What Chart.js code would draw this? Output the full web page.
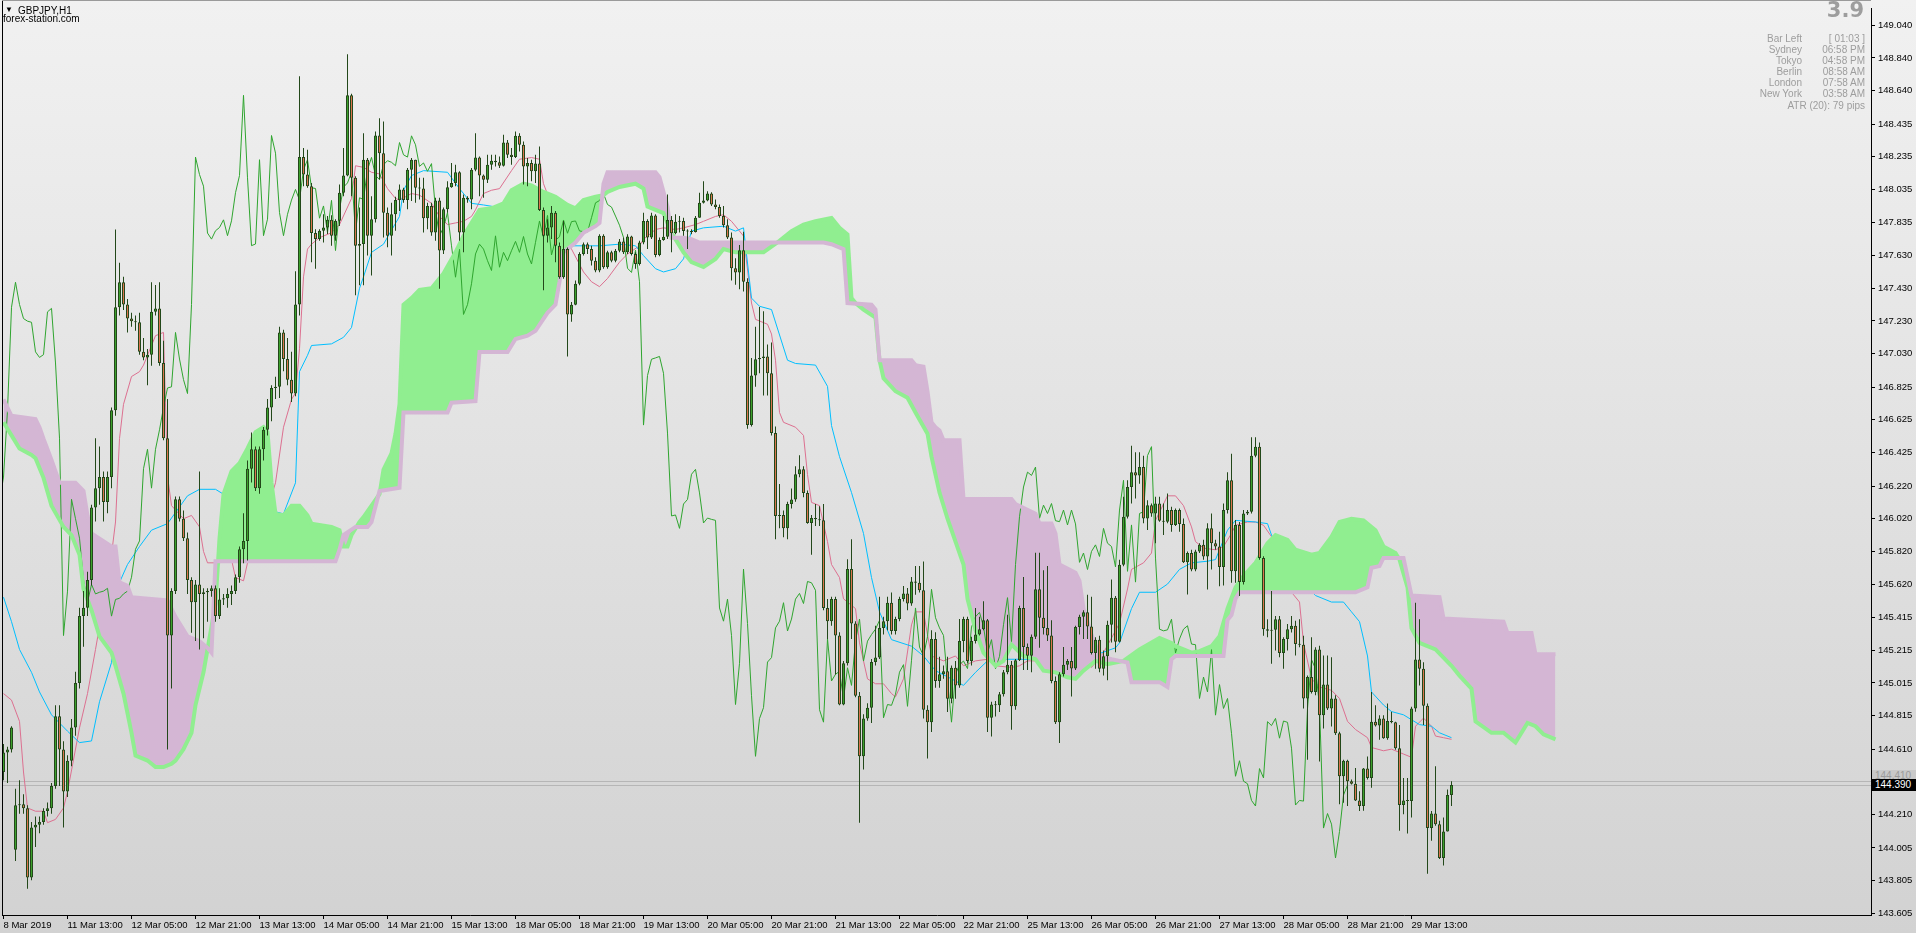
<!DOCTYPE html>
<html>
<head>
<meta charset="utf-8">
<title>GBPJPY,H1</title>
<script src="https://cdn.jsdelivr.net/npm/chart.js@4.4.1/dist/chart.umd.min.js"></script>
<style>
  html, body { margin: 0; padding: 0; }
  body {
    width: 1916px; height: 933px; overflow: hidden; position: relative;
    background: linear-gradient(to bottom, #f1f1f1 0%, #d2d2d2 100%);
    font-family: "Liberation Sans", Arial, sans-serif;
  }
  canvas { position: absolute; left: 0; top: 0; }
  .t { position: absolute; white-space: nowrap; font-size: 10px; line-height: 11px; }
  .info { color: #9d9d9d; text-align: right; }
  #big { position: absolute; right: 52px; top: -1px; font: bold 21px/22px "DejaVu Sans", Verdana, sans-serif; color: #9d9d9d; }
  .tag { position: absolute; left: 1872px; width: 44px; height: 12px; font: 10px/12px "Liberation Sans", Arial, sans-serif; padding-left: 3px; box-sizing: border-box; }
</style>
</head>
<body>
<canvas id="chart" width="1916" height="933"></canvas>

<div class="t" style="left:5px; top:4px; font-size:8px;">&#9660;</div>
<div class="t" style="left:18px; top:5px; color:#000;">GBPJPY,H1</div>
<div class="t" style="left:3px; top:13px; color:#000;">forex-station.com</div>

<div id="big">3.9</div>
<div class="t info" style="right:114px; top:33px;">Bar Left<br>Sydney<br>Tokyo<br>Berlin<br>London<br>New York</div>
<div class="t info" style="right:51px; top:33px;">[ 01:03 ]<br>06:58 PM<br>04:58 PM<br>08:58 AM<br>07:58 AM<br>03:58 AM</div>
<div class="t info" style="right:51px; top:100px;">ATR (20): 79 pips</div>

<div class="tag" id="askTag" style="background:#c9c9c9; color:#9a9a9a;">144.410</div>
<div class="tag" id="bidTag" style="background:#000; color:#fff;">144.390</div>

<script>
// GBPJPY H1, 8 Mar 2019 21:00 .. 29 Mar 2019
const tickBars = [0, 16, 32, 48, 64, 80, 96, 112, 128, 144, 160, 176, 192, 208, 224, 240, 256, 272, 288, 304, 320, 336, 352];
const tickLabels = ['8 Mar 2019', '11 Mar 13:00', '12 Mar 05:00', '12 Mar 21:00', '13 Mar 13:00', '14 Mar 05:00',
  '14 Mar 21:00', '15 Mar 13:00', '18 Mar 05:00', '18 Mar 21:00', '19 Mar 13:00', '20 Mar 05:00', '20 Mar 21:00',
  '21 Mar 13:00', '22 Mar 05:00', '22 Mar 21:00', '25 Mar 13:00', '26 Mar 05:00', '26 Mar 21:00', '27 Mar 13:00',
  '28 Mar 05:00', '28 Mar 21:00', '29 Mar 13:00'];
const priceTicks = [149.040, 148.840, 148.640, 148.435, 148.235, 148.035, 147.835, 147.630, 147.430, 147.230,
  147.030, 146.825, 146.625, 146.425, 146.220, 146.020, 145.820, 145.620, 145.415, 145.215, 145.015, 144.815,
  144.610, 144.210, 144.005, 143.805, 143.605];

const bidPrice = 144.390;
const askPrice = 144.415;

const opens = [
  144.470,144.590,144.607,143.994,144.266,144.273,144.249,143.824,144.130,144.147,
  144.164,144.232,144.249,144.385,144.811,144.607,144.351,144.539,144.743,145.015,
  145.424,145.475,145.645,146.088,146.207,146.275,146.122,146.275,146.684,147.314,
  147.467,147.331,147.245,147.229,147.222,147.041,147.007,147.024,147.286,147.307,
  146.973,146.513,145.305,145.577,146.139,146.020,145.901,145.645,145.509,145.618,
  145.560,145.570,145.577,145.594,145.424,145.526,145.533,145.560,145.577,145.662,
  145.833,145.884,146.326,146.445,146.207,146.445,146.564,146.701,146.820,146.827,
  147.160,146.997,146.871,146.786,147.331,148.233,148.126,148.055,147.768,147.731,
  147.782,147.802,147.849,147.752,147.843,148.015,148.120,148.611,148.106,147.691,
  147.701,148.217,147.752,147.853,148.365,148.257,147.893,147.752,147.883,147.970,
  148.035,147.970,148.156,148.217,148.045,148.041,147.859,147.934,147.772,147.968,
  147.661,147.913,148.049,148.075,148.140,147.772,147.984,147.974,148.156,148.231,
  148.120,148.095,148.186,148.211,148.201,148.180,148.322,148.247,148.233,148.363,
  148.308,148.176,148.197,148.146,148.193,147.909,147.752,147.802,147.893,147.690,
  147.498,147.670,147.270,147.330,147.458,147.640,147.700,147.670,147.599,147.539,
  147.751,147.559,147.650,147.599,147.660,147.717,147.650,147.747,147.640,147.579,
  147.711,147.842,147.741,147.876,147.634,147.725,147.745,147.848,147.767,147.838,
  147.842,147.781,147.777,147.775,147.862,147.953,147.967,148.010,147.943,147.927,
  147.872,147.816,147.741,147.553,147.527,147.663,147.470,146.593,146.896,146.996,
  147.004,147.013,146.910,146.544,146.037,146.043,145.961,146.110,146.138,146.292,
  146.322,146.178,145.994,146.024,146.016,146.010,145.474,145.393,145.528,145.306,
  144.883,145.135,145.712,145.379,144.937,144.566,144.797,144.864,145.143,145.170,
  145.352,145.393,145.506,145.333,145.406,145.528,145.563,145.501,145.636,145.628,
  145.582,144.851,144.775,145.284,145.027,145.068,145.086,144.918,145.108,145.000,
  145.271,145.406,145.149,145.271,145.311,145.344,145.398,144.802,144.883,144.878,
  144.946,145.081,145.127,144.872,145.154,145.474,145.235,145.181,145.298,145.588,
  145.414,145.352,145.306,145.027,144.775,145.068,145.127,145.149,145.103,145.357,
  145.420,145.447,145.360,145.198,145.280,145.102,145.178,145.371,145.537,145.267,
  145.739,146.032,146.214,146.305,146.285,146.336,146.022,146.103,146.052,146.113,
  146.008,146.002,146.073,145.982,146.073,145.988,145.753,145.810,145.709,145.820,
  145.860,145.789,145.961,145.870,145.850,145.725,146.073,146.255,145.698,145.982,
  145.632,146.052,146.063,146.406,146.461,145.779,145.344,145.334,145.340,145.405,
  145.199,145.284,145.344,145.365,145.253,145.249,144.920,145.051,144.960,145.219,
  144.818,145.005,144.859,144.920,144.707,144.444,144.539,144.414,144.398,144.296,
  144.262,144.491,144.434,144.778,144.754,144.798,144.677,144.782,144.774,144.616,
  144.268,144.296,144.292,144.859,145.158,145.102,144.875,144.127,144.216,144.151,
  143.944,144.106,144.329];

const highs = [
  144.641,144.624,144.750,144.368,144.419,144.334,144.266,144.164,144.198,144.198,
  144.249,144.283,144.402,144.879,144.879,144.658,144.573,144.794,145.083,145.475,
  145.577,145.696,146.105,146.513,146.462,146.309,146.309,146.701,147.790,147.586,
  147.501,147.365,147.280,147.263,147.280,147.126,147.058,147.467,147.450,147.467,
  147.109,146.752,145.594,146.156,146.156,146.071,145.935,145.662,145.645,146.309,
  145.594,145.594,145.611,145.611,145.594,145.560,145.594,145.611,145.679,145.850,
  146.054,146.377,146.547,146.462,146.462,146.582,146.752,146.837,146.888,147.194,
  147.177,147.126,147.041,147.535,148.727,148.288,148.278,148.075,147.792,147.792,
  147.883,147.873,147.877,147.853,148.065,148.288,148.863,148.621,148.116,147.924,
  148.379,148.227,147.994,148.389,148.470,148.450,147.924,147.954,147.990,148.065,
  148.045,148.166,148.227,148.217,148.106,148.106,147.954,147.954,147.984,147.984,
  147.924,148.085,148.197,148.186,148.146,148.004,147.994,148.166,148.379,148.237,
  148.126,148.247,148.247,148.247,148.237,148.369,148.338,148.288,148.389,148.379,
  148.328,148.227,148.217,148.247,148.298,147.924,147.853,147.933,147.903,147.711,
  147.842,147.680,147.346,147.478,147.650,147.711,147.711,147.690,147.620,147.761,
  147.761,147.660,147.660,147.670,147.731,147.741,147.761,147.751,147.650,147.721,
  147.893,147.852,147.893,147.883,147.741,147.872,148.004,147.872,147.883,147.872,
  147.862,147.791,147.791,147.872,148.014,148.085,148.024,148.018,147.974,147.943,
  147.933,147.852,147.771,147.614,147.695,147.776,147.492,147.004,147.194,147.316,
  147.289,147.086,147.099,146.585,146.232,146.070,146.124,146.205,146.341,146.408,
  146.341,146.192,146.043,146.110,146.097,146.110,145.528,145.542,145.542,145.325,
  145.149,145.772,145.894,145.393,144.959,144.824,144.891,145.162,145.365,145.542,
  145.420,145.542,145.569,145.420,145.542,145.609,145.596,145.663,145.731,145.731,
  145.758,144.878,145.338,145.325,145.176,145.122,145.176,145.122,145.149,145.406,
  145.420,145.420,145.298,145.474,145.420,145.515,145.406,144.900,144.905,144.959,
  145.095,145.433,145.149,145.162,145.487,145.663,145.257,145.311,145.812,145.812,
  145.704,145.731,145.398,145.054,145.081,145.235,145.162,145.235,145.365,145.433,
  145.460,145.555,145.542,145.294,145.304,145.213,145.395,145.648,145.547,145.769,
  146.154,146.255,146.467,146.427,146.427,146.406,146.133,146.113,146.154,146.154,
  146.113,146.174,146.093,146.083,146.083,146.022,145.820,145.830,145.830,145.870,
  145.891,145.992,146.052,145.891,145.941,146.113,146.305,146.417,146.012,146.000,
  146.073,146.073,146.518,146.518,146.487,145.790,145.405,145.577,145.425,145.425,
  145.294,145.375,145.425,145.395,145.405,145.304,145.061,145.294,145.233,145.243,
  145.183,145.183,145.172,144.940,144.717,144.545,144.545,144.424,144.495,144.353,
  144.495,144.565,144.960,144.879,144.818,144.818,144.889,144.839,144.778,144.758,
  144.434,144.434,144.869,145.506,145.405,145.142,144.889,144.232,144.505,144.171,
  144.191,144.363,144.414];

const lows = [
  144.419,144.402,144.590,143.926,144.215,144.215,143.755,143.807,144.011,144.096,
  144.147,144.198,144.215,144.368,144.385,144.130,144.317,144.505,144.692,144.981,
  145.236,145.424,145.611,146.003,146.105,146.003,146.054,146.207,146.650,147.263,
  147.297,147.160,147.194,147.171,147.024,146.990,146.837,146.956,147.263,146.956,
  146.500,144.607,144.981,145.560,146.003,145.884,145.560,145.322,145.271,145.220,
  145.288,145.390,145.543,145.390,145.407,145.492,145.475,145.492,145.560,145.628,
  145.747,145.764,146.241,146.190,146.173,146.377,146.530,146.616,146.752,146.759,
  146.922,146.837,146.735,146.769,147.263,148.055,148.045,147.590,147.549,147.721,
  147.711,147.762,147.691,147.721,147.812,147.994,148.116,147.994,147.387,147.448,
  147.448,147.630,147.509,147.833,148.096,147.741,147.681,147.630,147.782,147.903,
  147.954,147.913,147.964,147.954,147.974,147.772,147.792,147.752,147.721,147.428,
  147.640,147.893,148.045,148.055,147.721,147.650,147.954,147.913,148.146,147.994,
  147.984,148.075,148.156,148.176,148.166,148.176,148.227,148.186,148.227,148.267,
  148.065,148.055,148.085,148.075,147.903,147.418,147.711,147.731,147.589,147.488,
  147.488,147.013,147.225,147.326,147.448,147.630,147.640,147.569,147.529,147.529,
  147.549,147.549,147.589,147.589,147.650,147.640,147.640,147.630,147.549,147.569,
  147.700,147.670,147.731,147.620,147.626,147.721,147.731,147.650,147.761,147.771,
  147.751,147.670,147.761,147.771,147.862,147.949,147.963,147.933,147.913,147.862,
  147.802,147.731,147.478,147.451,147.424,147.411,146.571,146.585,146.828,146.910,
  146.774,146.774,146.530,145.894,145.961,145.907,145.894,146.083,146.124,146.273,
  146.151,145.989,145.799,145.975,145.975,145.460,145.284,145.365,145.067,144.878,
  144.878,145.122,145.284,144.927,144.160,144.485,144.783,144.770,145.122,145.162,
  145.311,145.338,145.311,145.311,145.393,145.514,145.460,145.487,145.555,145.569,
  144.797,144.553,144.715,144.986,144.986,145.040,144.837,144.891,144.918,144.986,
  145.203,145.135,145.122,145.257,145.306,145.338,144.715,144.688,144.810,144.837,
  144.932,145.068,144.729,144.851,145.149,145.095,145.095,145.081,145.284,145.230,
  145.311,145.271,145.013,144.764,144.648,145.054,145.095,144.932,145.095,145.311,
  145.284,145.284,145.189,145.102,145.081,145.061,145.031,145.263,145.203,145.263,
  145.729,146.022,146.113,146.143,146.234,145.992,145.951,146.032,145.870,146.002,
  145.921,145.992,145.941,145.976,145.941,145.749,145.557,145.698,145.698,145.810,
  145.769,145.587,145.709,145.830,145.607,145.611,146.052,145.628,145.628,145.547,
  145.617,146.042,146.052,146.396,145.769,145.304,145.294,145.132,145.213,145.172,
  145.102,145.213,145.324,145.183,145.233,144.859,144.545,144.950,144.940,144.535,
  144.737,144.849,144.748,144.697,144.272,144.282,144.262,144.393,144.292,144.232,
  144.233,144.424,144.373,144.748,144.667,144.673,144.667,144.768,144.606,144.110,
  144.212,144.094,144.191,144.839,145.000,144.758,143.847,144.050,144.141,143.938,
  143.898,144.106,144.262];

const closes = [
  144.590,144.607,144.743,144.266,144.273,144.249,143.824,144.130,144.147,144.164,
  144.232,144.249,144.385,144.811,144.607,144.351,144.539,144.743,145.015,145.424,
  145.475,145.645,146.088,146.207,146.275,146.122,146.275,146.684,147.314,147.467,
  147.331,147.245,147.229,147.222,147.041,147.007,147.024,147.286,147.307,146.973,
  146.513,145.305,145.577,146.139,146.020,145.901,145.645,145.509,145.618,145.560,
  145.570,145.577,145.594,145.424,145.526,145.533,145.560,145.577,145.662,145.833,
  145.884,146.326,146.445,146.207,146.445,146.564,146.701,146.820,146.827,147.160,
  146.997,146.871,146.786,147.331,148.233,148.126,148.055,147.768,147.731,147.782,
  147.802,147.849,147.752,147.843,148.015,148.120,148.611,148.106,147.691,147.701,
  148.217,147.752,147.853,148.365,148.257,147.893,147.752,147.883,147.970,148.035,
  147.970,148.156,148.217,148.045,148.041,147.859,147.934,147.772,147.968,147.661,
  147.913,148.049,148.075,148.140,147.772,147.984,147.974,148.156,148.231,148.120,
  148.095,148.186,148.211,148.201,148.180,148.322,148.247,148.233,148.363,148.308,
  148.176,148.197,148.146,148.193,147.909,147.752,147.802,147.893,147.690,147.498,
  147.670,147.270,147.330,147.458,147.640,147.700,147.670,147.599,147.539,147.751,
  147.559,147.650,147.599,147.660,147.717,147.650,147.747,147.640,147.579,147.711,
  147.842,147.741,147.876,147.634,147.725,147.745,147.848,147.767,147.838,147.842,
  147.781,147.777,147.775,147.862,147.953,147.967,148.010,147.943,147.927,147.872,
  147.816,147.741,147.553,147.527,147.663,147.470,146.593,146.896,146.996,147.004,
  147.013,146.910,146.544,146.037,146.043,145.961,146.110,146.138,146.292,146.322,
  146.178,145.994,146.024,146.016,146.010,145.474,145.393,145.528,145.306,144.883,
  145.135,145.712,145.379,144.937,144.566,144.797,144.864,145.143,145.170,145.352,
  145.393,145.506,145.333,145.406,145.528,145.563,145.501,145.636,145.628,145.582,
  144.851,144.775,145.284,145.027,145.068,145.086,144.918,145.108,145.000,145.271,
  145.406,145.149,145.271,145.311,145.344,145.398,144.802,144.883,144.878,144.946,
  145.081,145.127,144.872,145.154,145.474,145.235,145.181,145.298,145.588,145.414,
  145.352,145.306,145.027,144.775,145.068,145.127,145.149,145.103,145.357,145.420,
  145.447,145.360,145.198,145.280,145.102,145.178,145.371,145.537,145.267,145.739,
  146.032,146.214,146.305,146.285,146.336,146.022,146.103,146.052,146.113,146.008,
  146.002,146.073,145.982,146.073,145.988,145.753,145.810,145.709,145.820,145.860,
  145.789,145.961,145.870,145.850,145.725,146.073,146.255,145.698,145.982,145.632,
  146.052,146.063,146.406,146.461,145.779,145.344,145.334,145.340,145.405,145.199,
  145.284,145.344,145.365,145.253,145.249,144.920,145.051,144.960,145.219,144.818,
  145.005,144.859,144.920,144.707,144.444,144.539,144.414,144.398,144.296,144.262,
  144.491,144.434,144.778,144.754,144.798,144.677,144.782,144.774,144.616,144.268,
  144.296,144.292,144.859,145.158,145.102,144.875,144.127,144.216,144.151,143.944,
  144.106,144.329,144.390];

// Ichimoku lines: [bar, price]
const tenkan = [[0,144.95],[2,144.91],[4,144.78],[5,144.47],[6,144.25],[8,144.23],[10,144.23],[11,144.16],[13,144.18],
  [15,144.25],[16,144.35],[19,144.74],[21,144.95],[23,145.22],[24,145.36],[26,145.56],[27,145.80],[28,146.00],[29,146.51],
  [30,146.72],[32,146.89],[34,146.92],[35,146.96],[37,147.08],[38,147.14],[40,147.16],[41,146.28],[42,146.10],[45,146.02],
  [47,146.04],[49,145.97],[50,145.82],[51,145.75],[54,145.75],[57,145.77],[58,145.66],[60,145.64],[61,145.75],[63,146.00],
  [65,146.00],[68,146.24],[70,146.58],[72,146.75],[73,146.79],[74,147.06],[75,147.50],[76,147.67],[77,147.70],[79,147.74],
  [82,147.77],[84,147.82],[87,147.98],[88,148.18],[90,148.17],[92,148.14],[94,148.13],[96,148.04],[98,147.98],[99,147.97],
  [102,148.01],[104,148.00],[107,147.95],[109,147.87],[111,147.82],[113,147.83],[115,147.84],[117,147.87],[118,147.91],
  [120,148.01],[122,148.03],[124,148.04],[127,148.15],[129,148.22],[132,148.23],[134,148.22],[135,148.07],[140,147.75],
  [142,147.67],[145,147.53],[147,147.47],[149,147.44],[151,147.49],[154,147.59],[156,147.64],[159,147.69],[160,147.73],
  [163,147.79],[165,147.80],[168,147.79],[170,147.80],[173,147.82],[175,147.84],[178,147.87],[180,147.88],[182,147.84],
  [185,147.75],[187,147.34],[188,147.24],[191,147.21],[192,147.15],[193,146.99],[194,146.67],[195,146.61],[198,146.58],
  [200,146.53],[201,146.29],[202,146.12],[204,146.10],[206,145.88],[207,145.74],[209,145.66],[210,145.53],[213,145.47],
  [214,145.26],[216,145.04],[218,145.01],[220,145.01],[222,144.95],[223,144.93],[225,145.04],[227,145.37],[228,145.45],
  [230,145.45],[231,145.31],[232,145.18],[235,145.15],[238,145.18],[240,145.12],[243,145.15],[246,145.16],[248,145.12],
  [252,145.11],[254,145.12],[256,145.15],[271,145.15],[272,145.11],[275,145.20],[279,145.38],[281,145.59],[282,145.71],
  [285,145.75],[287,145.81],[288,146.01],[290,146.11],[291,146.16],[293,146.16],[295,146.10],[297,145.97],[298,145.88],
  [300,145.84],[303,145.83],[305,145.85],[307,145.93],[308,145.98],[311,146.00],[313,146.00],[315,145.98],[317,145.91],
  [319,145.72],[322,145.57],[324,145.51],[325,145.26],[327,145.04],[329,144.99],[332,144.97],[334,144.92],[336,144.78],
  [338,144.73],[341,144.68],[342,144.62],[345,144.60],[347,144.61],[350,144.58],[352,144.56],[353,144.75],[355,144.80],
  [357,144.75],[358,144.69],[360,144.68],[362,144.67]];

const kijun = [[0,145.54],[2,145.39],[4,145.22],[7,145.08],[9,144.96],[12,144.82],[16,144.72],[19,144.65],[22,144.66],
  [24,144.90],[27,145.14],[29,145.63],[31,145.74],[34,145.85],[37,145.95],[41,145.99],[46,146.16],[49,146.20],[53,146.20],
  [55,146.17],[62,146.10],[70,146.05],[73,146.24],[74,146.92],[76,147.02],[77,147.08],[82,147.09],[85,147.13],[87,147.19],
  [89,147.43],[90,147.50],[92,147.65],[95,147.70],[99,147.87],[100,148.03],[102,148.12],[105,148.15],[111,148.14],
  [114,148.04],[117,147.95],[120,147.94],[125,147.92],[134,147.92],[140,147.69],[149,147.69],[154,147.70],[158,147.69],
  [160,147.63],[163,147.55],[165,147.53],[168,147.55],[170,147.61],[172,147.78],[175,147.80],[180,147.81],[183,147.78],
  [185,147.80],[187,147.37],[189,147.32],[192,147.30],[196,146.99],[198,146.97],[203,146.96],[206,146.83],[207,146.59],
  [209,146.40],[212,146.18],[215,145.93],[217,145.66],[219,145.45],[222,145.28],[227,145.24],[230,145.18],[233,145.09],
  [237,145.04],[240,145.00],[243,145.08],[246,145.15],[248,145.16],[270,145.16],[278,145.23],[279,145.26],[282,145.47],
  [284,145.57],[288,145.57],[291,145.62],[294,145.71],[297,145.75],[301,145.76],[303,145.77],[306,145.95],[308,146.01],
  [313,146.00],[316,145.99],[317,145.92],[322,145.70],[328,145.55],[332,145.51],[335,145.51],[337,145.45],[339,145.39],
  [341,145.18],[342,144.96],[345,144.88],[347,144.84],[350,144.82],[352,144.79],[354,144.76],[357,144.75],[359,144.71],
  [362,144.68]];

const senkouA = [[0,146.61],[2,146.53],[4,146.45],[7,146.41],[8,146.39],[10,146.27],[12,146.10],[15,145.97],[17,145.92],
  [19,145.80],[20,145.59],[22,145.46],[24,145.30],[27,145.20],[28,145.12],[30,144.95],[32,144.71],[33,144.57],[36,144.54],
  [38,144.50],[40,144.50],[42,144.52],[43,144.54],[45,144.61],[47,144.71],[48,144.88],[50,145.08],[51,145.22],[52,145.36],
  [53,145.50],[54,145.90],[55,146.17],[57,146.31],[59,146.36],[61,146.45],[63,146.55],[65,146.58],[66,146.55],[67,146.24],
  [68,146.05],[70,146.04],[72,146.10],[74,146.10],[76,146.04],[77,145.99],[82,145.97],[84,145.95],[85,145.85],[86,145.85],
  [87,145.92],[89,146.00],[90,146.03],[94,146.17],[95,146.32],[97,146.42],[98,146.54],[99,146.72],[100,147.33],[102,147.37],
  [104,147.42],[107,147.43],[110,147.52],[113,147.65],[115,147.75],[119,147.91],[122,147.92],[125,147.95],[127,148.03],
  [130,148.07],[132,148.06],[135,148.02],[138,147.99],[141,147.94],[143,147.92],[145,147.97],[148,147.99],[150,148.00],
  [151,148.02],[154,148.05],[158,148.07],[160,148.04],[161,147.93],[163,147.91],[165,147.89],[167,147.77],[170,147.65],
  [172,147.59],[175,147.56],[178,147.61],[180,147.67],[183,147.65],[187,147.65],[190,147.65],[194,147.72],[197,147.78],
  [200,147.82],[203,147.84],[207,147.86],[209,147.80],[211,147.76],[212,147.37],[213,147.34],[215,147.30],[218,147.25],
  [219,146.99],[220,146.88],[223,146.80],[226,146.76],[228,146.67],[231,146.54],[232,146.40],[234,146.18],[236,146.02],
  [238,145.88],[240,145.74],[241,145.53],[243,145.34],[245,145.20],[248,145.12],[250,145.15],[252,145.25],[255,145.18],
  [258,145.16],[260,145.09],[263,145.08],[266,145.05],[268,145.04],[270,145.09],[273,145.15],[276,145.13],[280,145.15],
  [284,145.22],[289,145.29],[292,145.26],[293,145.24],[297,145.20],[299,145.21],[302,145.24],[304,145.30],[306,145.47],
  [308,145.60],[310,145.67],[313,145.75],[316,145.87],[318,145.92],[321,145.89],[323,145.83],[327,145.80],[329,145.81],
  [332,145.91],[334,146.00],[337,146.02],[340,146.01],[343,145.95],[345,145.85],[348,145.81],[349,145.77],[351,145.60],
  [352,145.35],[354,145.26],[358,145.22],[362,145.12],[364,145.06],[367,144.98],[368,144.78],[372,144.71],[375,144.71],
  [378,144.65],[381,144.77],[383,144.75],[385,144.70],[388,144.67]];

const senkouB = [[0,146.75],[2,146.65],[8,146.63],[9,146.58],[10,146.51],[12,146.38],[14,146.24],[18,146.24],[20,146.19],
  [21,146.04],[22,145.93],[27,145.85],[28,145.85],[29,145.63],[31,145.61],[32,145.54],[41,145.52],[43,145.42],[46,145.30],
  [49,145.27],[51,145.23],[52,145.20],[53,145.76],[83,145.76],[84,145.83],[85,145.92],[88,145.97],[91,145.97],[92,146.00],
  [94,146.19],[99,146.21],[100,146.67],[111,146.67],[112,146.73],[118,146.74],[119,147.04],[126,147.04],[128,147.12],
  [131,147.14],[133,147.17],[136,147.28],[138,147.33],[139,147.47],[140,147.65],[143,147.71],[145,147.77],[148,147.81],
  [149,147.83],[150,148.07],[151,148.14],[163,148.14],[164,148.11],[166,147.93],[167,147.74],[170,147.74],[172,147.73],
  [174,147.71],[205,147.71],[207,147.70],[210,147.67],[211,147.34],[217,147.33],[218,147.30],[219,146.99],[227,146.99],
  [228,146.96],[230,146.95],[231,146.80],[232,146.61],[233,146.58],[234,146.56],[235,146.50],[239,146.50],[240,146.14],
  [252,146.14],[253,146.11],[258,146.05],[259,145.99],[262,145.99],[263,145.93],[264,145.74],[268,145.69],[269,145.64],
  [270,145.47],[272,145.31],[274,145.18],[277,145.16],[279,145.15],[281,145.14],[282,145.02],[289,145.02],[291,144.99],
  [292,145.16],[293,145.18],[305,145.18],[306,145.40],[307,145.43],[308,145.53],[309,145.57],[338,145.57],[341,145.60],
  [342,145.72],[344,145.73],[345,145.78],[350,145.78],[352,145.55],[359,145.54],[360,145.41],[375,145.39],[376,145.32],
  [382,145.32],[383,145.19],[388,145.19]];

const chikouShift = 26;

// colours
const BULL = '#3ca12c';
const BEAR = '#db744e';
const EDGE = '#23481a';
const CLOUD_UP = '#90ee90';
const CLOUD_DN = '#d4b6d4';
const AXIS_FONT = { family: '"Liberation Sans", Arial, sans-serif', size: 9.5 };

const toPoints = arr => arr.map(([x, y]) => ({ x: x, y: y }));

// bid / ask lines and window frame
const chartDecor = {
    id: 'chartDecor',
    beforeDatasetsDraw(chart) {
        const { ctx, chartArea, scales } = chart;
        ctx.save();
        ctx.strokeStyle = '#b6b6b6';
        ctx.lineWidth = 1;
        [askPrice, bidPrice].forEach(p => {
            const py = Math.round(scales.y.getPixelForValue(p)) + 0.5;
            ctx.beginPath();
            ctx.moveTo(chartArea.left, py);
            ctx.lineTo(chartArea.right, py);
            ctx.stroke();
        });
        ctx.restore();
    },
    afterDraw(chart) {
        const { ctx, chartArea } = chart;
        ctx.save();
        ctx.fillStyle = '#000';
        ctx.fillRect(2, 0, 1, chartArea.bottom + 1);
        ctx.fillStyle = '#9a9a9a';
        ctx.fillRect(2, 0, chartArea.right - 2, 1);
        ctx.restore();
    }
};

const ctx = document.getElementById('chart').getContext('2d');
const chart = new Chart(ctx, {
    type: 'bar',
    data: {
        datasets: [
            {
                label: 'Body',
                data: closes.map((c, i) => ({ x: i, y: [opens[i], c] })),
                backgroundColor: closes.map((c, i) => c >= opens[i] ? BULL : BEAR),
                borderColor: EDGE,
                borderWidth: 1,
                borderSkipped: false,
                barThickness: 3,
                minBarLength: 1,
                grouped: false,
                inflateAmount: 0,
                order: 0
            },
            {
                label: 'Wick',
                data: closes.map((c, i) => ({ x: i, y: [lows[i], highs[i]] })),
                backgroundColor: EDGE,
                borderWidth: 0,
                barThickness: 1,
                grouped: false,
                inflateAmount: 0,
                order: 1
            },
            {
                type: 'line',
                label: 'Senkou Span B',
                data: toPoints(senkouB),
                borderColor: CLOUD_DN,
                borderWidth: 4,
                pointRadius: 0,
                fill: false,
                order: 2
            },
            {
                type: 'line',
                label: 'Senkou Span A',
                data: toPoints(senkouA),
                borderColor: CLOUD_UP,
                borderWidth: 4,
                pointRadius: 0,
                fill: false,
                order: 3
            },
            {
                type: 'line',
                label: 'Chikou Span',
                data: closes.map((c, i) => ({ x: i - chikouShift, y: c })),
                borderColor: '#2fa52f',
                borderWidth: 1,
                pointRadius: 0,
                fill: false,
                order: 4
            },
            {
                type: 'line',
                label: 'Kumo',
                data: toPoints(senkouA),
                borderColor: 'rgba(0,0,0,0)',
                borderWidth: 1,
                pointRadius: 0,
                fill: { target: 2, above: CLOUD_UP, below: CLOUD_DN },
                order: 5
            },
            {
                type: 'line',
                label: 'Kijun-sen',
                data: toPoints(kijun),
                borderColor: '#00bfff',
                borderWidth: 1,
                pointRadius: 0,
                fill: false,
                order: 6
            },
            {
                type: 'line',
                label: 'Tenkan-sen',
                data: toPoints(tenkan),
                borderColor: '#dc7090',
                borderWidth: 1,
                pointRadius: 0,
                fill: false,
                order: 7
            }
        ]
    },
    options: {
        responsive: false,
        animation: false,
        devicePixelRatio: 1,
        events: [],
        layout: { padding: { left: 3, top: 1, right: 0, bottom: 0 } },
        plugins: {
            legend: { display: false },
            tooltip: { enabled: false }
        },
        scales: {
            x: {
                type: 'linear',
                position: 'bottom',
                min: -0.125,
                max: 466.875,
                offset: false,
                afterBuildTicks: scale => { scale.ticks = tickBars.map(v => ({ value: v })); },
                afterFit: scale => { scale.height = 18; },
                ticks: {
                    autoSkip: false,
                    maxRotation: 0,
                    minRotation: 0,
                    align: 'start',
                    padding: 1,
                    color: '#000',
                    font: AXIS_FONT,
                    callback: (value, index) => tickLabels[index]
                },
                grid: { drawOnChartArea: false, drawTicks: true, tickLength: 4, color: '#000', offset: false },
                border: { display: true, color: '#000', width: 1 }
            },
            y: {
                type: 'linear',
                position: 'right',
                min: 143.595,
                max: 149.141,
                afterBuildTicks: scale => { scale.ticks = priceTicks.map(v => ({ value: v })); },
                afterFit: scale => { scale.width = 45; },
                ticks: {
                    padding: 3,
                    color: '#000',
                    font: AXIS_FONT,
                    callback: value => value.toFixed(3)
                },
                grid: { drawOnChartArea: false, drawTicks: true, tickLength: 4, color: '#000' },
                border: { display: true, color: '#000', width: 1 }
            }
        }
    },
    plugins: [chartDecor]
});

// price tags on the axis follow the scale
const yScale = chart.scales.y;
document.getElementById('bidTag').style.top = (Math.round(yScale.getPixelForValue(bidPrice)) - 6) + 'px';
document.getElementById('askTag').style.top = (Math.round(yScale.getPixelForValue(askPrice)) - 11) + 'px';
</script>
</body>
</html>
